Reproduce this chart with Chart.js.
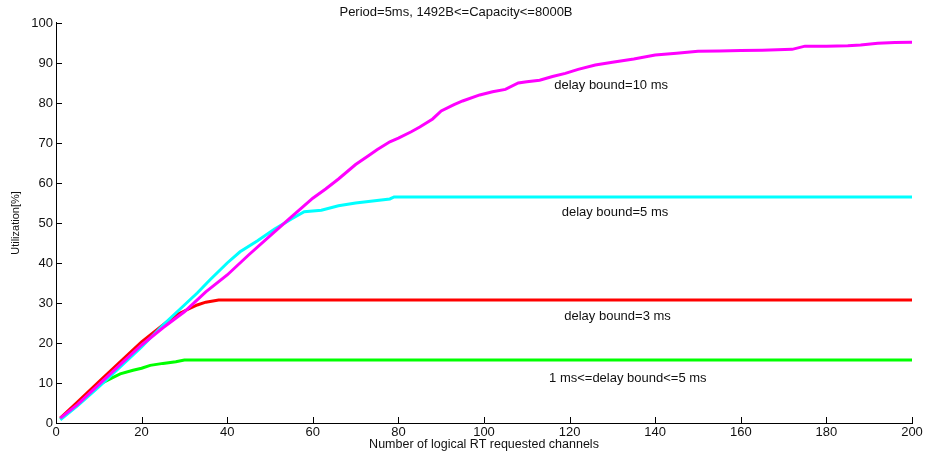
<!DOCTYPE html>
<html lang="en">
<head>
    <meta charset="UTF-8">
    <title>Utilization vs requested channels</title>
    <script src="https://cdn.jsdelivr.net/npm/chart.js"></script>
    <style>
        html, body { margin: 0; padding: 0; background: #fff; }
        #wrap { width: 926px; height: 457px; }
    </style>
</head>
<body>
    <div id="wrap"><canvas id="chart"></canvas></div>
    <script>
        // Curves (x = channels, y = utilization %)
        const magentaX = [1, 5, 10, 15, 20, 25, 30, 35, 40, 45, 50, 55, 60, 63, 66, 70, 73, 75, 78, 80, 83, 85, 88, 90, 93, 95, 99, 102, 105, 108, 110, 113, 116, 119, 122, 126, 130, 135, 140, 145, 150, 155, 160, 165, 172, 175, 180, 185, 188, 192, 196, 200];
        const magentaY = [1.2, 4.6, 9.6, 14.6, 19.5, 23.8, 27.8, 32.8, 37, 42, 46.8, 51.5, 56.2, 58.5, 61, 64.6, 66.8, 68.3, 70.3, 71.2, 72.8, 74, 76, 78, 79.6, 80.5, 82, 82.8, 83.4, 85, 85.3, 85.7, 86.6, 87.4, 88.4, 89.5, 90.2, 91, 92, 92.4, 92.9, 93, 93.1, 93.2, 93.4, 94.2, 94.2, 94.3, 94.5, 94.9, 95.1, 95.2];

        const cyanX = [1, 5, 10, 15, 20, 25, 30, 33, 36, 40, 43, 47, 51, 55, 58, 62, 66, 70, 75, 78, 79, 200];
        const cyanY = [0.8, 4.3, 9, 14, 19, 24.5, 29.5, 32.5, 35.8, 40, 42.8, 45.5, 48.4, 51, 52.8, 53.2, 54.3, 55, 55.6, 56, 56.5, 56.5];

        const redX = [1, 5, 10, 15, 20, 25, 28, 30, 33, 35, 38, 200];
        const redY = [1.2, 5.2, 10.3, 15.3, 20.3, 24.5, 27, 28, 29.5, 30.2, 30.75, 30.75];

        const greenX = [1, 5, 10, 13, 15, 18, 20, 22, 25, 28, 30, 200];
        const greenY = [1, 4.8, 9.6, 11.2, 12.3, 13.2, 13.7, 14.4, 14.9, 15.3, 15.75, 15.75];

        // In-plot labels (data coordinates)
        const noteTexts = ['delay bound=10 ms', 'delay bound=5 ms', 'delay bound=3 ms', '1 ms<=delay bound<=5 ms'];
        const noteX = [129.7, 130.6, 131.2, 133.6];
        const noteY = [84.5, 52.75, 26.75, 11.25];

        const FONT = 'Liberation Sans, Arial, Helvetica, sans-serif';

        function toPoints(xs, ys) {
            return xs.map((x, i) => ({ x: x, y: ys[i] }));
        }

        // ticks pointing into the plot, like the original
        const innerTicks = {
            id: 'innerTicks',
            afterDraw(chart) {
                const ctx = chart.ctx;
                const area = chart.chartArea;
                ctx.save();
                ctx.strokeStyle = '#000';
                ctx.lineWidth = 1;
                chart.scales.x.ticks.forEach(t => {
                    const px = Math.round(chart.scales.x.getPixelForValue(t.value)) + 0.5;
                    ctx.beginPath();
                    ctx.moveTo(px, area.bottom);
                    ctx.lineTo(px, area.bottom - 6);
                    ctx.stroke();
                });
                chart.scales.y.ticks.forEach(t => {
                    const py = Math.round(chart.scales.y.getPixelForValue(t.value)) + 0.5;
                    ctx.beginPath();
                    ctx.moveTo(area.left, py);
                    ctx.lineTo(area.left + 6, py);
                    ctx.stroke();
                });
                ctx.restore();
            }
        };

        const notes = {
            id: 'notes',
            afterDatasetsDraw(chart) {
                const ctx = chart.ctx;
                ctx.save();
                ctx.font = '13px ' + FONT;
                ctx.fillStyle = '#111';
                ctx.textAlign = 'center';
                ctx.textBaseline = 'middle';
                noteTexts.forEach((txt, i) => {
                    ctx.fillText(txt, chart.scales.x.getPixelForValue(noteX[i]), chart.scales.y.getPixelForValue(noteY[i]));
                });
                ctx.restore();
            }
        };

        new Chart(document.getElementById('chart'), {
            type: 'line',
            data: {
                datasets: [
                    { data: toPoints(magentaX, magentaY), borderColor: '#ff00ff' },
                    { data: toPoints(cyanX, cyanY), borderColor: '#00ffff' },
                    { data: toPoints(redX, redY), borderColor: '#ff0000' },
                    { data: toPoints(greenX, greenY), borderColor: '#00ff00' }
                ]
            },
            options: {
                responsive: true,
                maintainAspectRatio: false,
                animation: false,
                datasets: { line: { borderWidth: 3, pointRadius: 0, tension: 0, fill: false } },
                layout: { padding: { left: 0, right: 14, top: 0, bottom: 0 } },
                plugins: {
                    legend: { display: false },
                    tooltip: { enabled: false },
                    title: {
                        display: true,
                        text: 'Period=5ms, 1492B<=Capacity<=8000B',
                        color: '#111',
                        font: { family: FONT, size: 13, weight: 'normal', lineHeight: 1.15 },
                        padding: { top: 5, bottom: 3 }
                    }
                },
                scales: {
                    x: {
                        type: 'linear',
                        min: 0,
                        max: 200,
                        grid: { display: false, drawTicks: false },
                        border: { display: true, color: '#000', width: 1 },
                        ticks: { stepSize: 20, padding: 2, color: '#111', font: { family: FONT, size: 13, lineHeight: 1.15 } },
                        title: {
                            display: true,
                            text: 'Number of logical RT requested channels',
                            color: '#111',
                            font: { family: FONT, size: 12.5 },
                            padding: { top: 0, bottom: 4.5 }
                        },
                        afterFit(scale) { scale.height = 34; }
                    },
                    y: {
                        min: 0,
                        max: 100,
                        grid: { display: false, drawTicks: false },
                        border: { display: true, color: '#000', width: 1 },
                        ticks: { stepSize: 10, padding: 3, color: '#111', font: { family: FONT, size: 13 } },
                        title: {
                            display: true,
                            text: 'Utilization[%]',
                            color: '#111',
                            font: { family: FONT, size: 11 },
                            padding: { top: 9.4, bottom: 0 }
                        },
                        afterFit(scale) { scale.width = 56; }
                    }
                }
            },
            plugins: [innerTicks, notes]
        });
    </script>
</body>
</html>
